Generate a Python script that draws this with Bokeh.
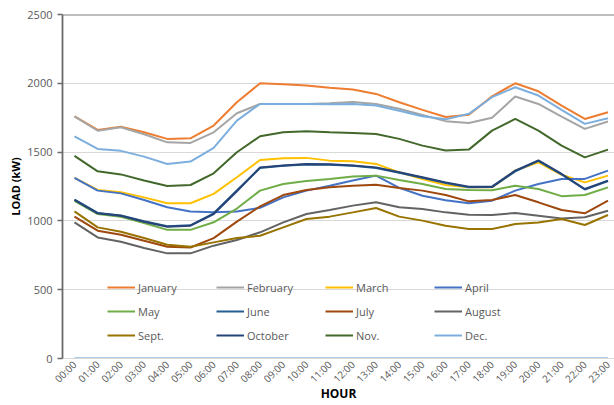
import math
from bokeh.plotting import figure
from bokeh.models import Range1d, FixedTicker, Legend, LegendItem, Span
from bokeh.embed import file_html
from bokeh.resources import INLINE

hours = ["00:00", "01:00", "02:00", "03:00", "04:00", "05:00", "06:00", "07:00",
         "08:00", "09:00", "10:00", "11:00", "12:00", "13:00", "14:00", "15:00",
         "16:00", "17:00", "18:00", "19:00", "20:00", "21:00", "22:00", "23:00"]

hour_series = [0, 0, 0, 0, 0, 0, 0, 0, 0, 0, 0, 0, 0, 0, 0, 0, 0, 0, 0, 0, 0, 0, 0, 0]

january = [1760, 1661, 1685, 1644, 1596, 1600, 1693, 1862, 2000, 1993, 1984, 1967,
           1955, 1923, 1862, 1807, 1755, 1772, 1905, 2000, 1942, 1838, 1741, 1790]
february = [1760, 1655, 1680, 1630, 1571, 1567, 1644, 1782, 1850, 1850, 1850, 1855,
            1864, 1850, 1815, 1770, 1725, 1712, 1749, 1904, 1850, 1758, 1669, 1722]
march = [1312, 1225, 1208, 1171, 1128, 1128, 1196, 1317, 1443, 1455, 1458, 1438,
         1433, 1414, 1353, 1305, 1261, 1244, 1244, 1365, 1426, 1335, 1280, 1329]
april = [1312, 1220, 1200, 1152, 1099, 1069, 1062, 1069, 1095, 1171, 1220, 1256,
         1293, 1329, 1240, 1183, 1150, 1128, 1147, 1220, 1268, 1305, 1305, 1365]
may = [1145, 1050, 1030, 985, 935, 935, 990, 1090, 1220, 1268, 1290, 1305,
       1322, 1329, 1298, 1268, 1232, 1225, 1222, 1256, 1232, 1180, 1188, 1244]
june = [1155, 1058, 1040, 998, 962, 968, 1055, 1222, 1385, 1400, 1410, 1408,
        1400, 1385, 1350, 1314, 1276, 1245, 1246, 1360, 1436, 1338, 1228, 1290]
july = [1031, 929, 900, 856, 812, 807, 875, 995, 1105, 1188, 1225, 1244,
        1256, 1263, 1239, 1220, 1188, 1142, 1152, 1188, 1135, 1079, 1055, 1147]
august = [989, 880, 849, 803, 764, 764, 820, 861, 917, 989, 1050, 1079,
          1111, 1135, 1099, 1087, 1062, 1045, 1043, 1058, 1038, 1018, 1026, 1074]
september = [1069, 953, 921, 876, 827, 812, 844, 876, 892, 953, 1014, 1031,
             1062, 1094, 1031, 1002, 965, 941, 941, 977, 989, 1014, 970, 1043]
october = [1152, 1055, 1038, 994, 958, 965, 1050, 1215, 1389, 1402, 1414, 1411,
           1402, 1389, 1353, 1317, 1280, 1249, 1249, 1365, 1440, 1341, 1232, 1293]
november = [1472, 1360, 1338, 1293, 1254, 1261, 1346, 1499, 1615, 1644, 1651, 1644,
            1639, 1632, 1596, 1547, 1511, 1518, 1656, 1741, 1656, 1547, 1462, 1518]
december = [1615, 1523, 1509, 1467, 1414, 1431, 1530, 1729, 1850, 1850, 1850, 1848,
             1850, 1838, 1800, 1760, 1738, 1778, 1899, 1971, 1911, 1807, 1705, 1746]

month_names = ["January", "February", "March", "April", "May", "June",
               "July", "August", "Sept.", "October", "Nov.", "Dec."]
month_values = [january, february, march, april, may, june,
                july, august, september, october, november, december]
month_colors = ["#ED7D31", "#A5A5A5", "#FFC000", "#4472C4", "#70AD47", "#255E91",
                "#9E480E", "#636363", "#997300", "#264478", "#43682B", "#7CAFDD"]

y_ticks = [0, 500, 1000, 1500, 2000, 2500]

FONT = "Open Sans"
TXT = "#595959"

x = list(range(len(hours)))

p = figure(width=614, height=405, output_backend="svg", toolbar_location=None,
           x_range=Range1d(-0.517, 23.28), y_range=Range1d(0, 2500),
           min_border_left=62, min_border_right=0, min_border_top=14,
           min_border_bottom=47)
p.outline_line_color = None
p.background_fill_color = "white"
p.border_fill_color = "white"

# axes
p.xaxis.ticker = FixedTicker(ticks=x)
p.xaxis.major_label_overrides = {i: h for i, h in enumerate(hours)}
p.xaxis.major_label_orientation = math.pi / 4
p.xaxis.major_label_text_font = FONT
p.xaxis.major_label_text_font_size = "10px"
p.xaxis.major_label_text_color = TXT
p.xaxis.major_label_standoff = 4
p.xaxis.major_tick_out = 0
p.xaxis.major_tick_in = 0
p.xaxis.major_tick_line_color = None
p.xaxis.minor_tick_line_color = None
p.xaxis.axis_line_color = "#D9D9D9"
p.xaxis.axis_label = "HOUR"
p.xaxis.axis_label_text_font = FONT
p.xaxis.axis_label_text_font_style = "bold"
p.xaxis.axis_label_text_font_size = "12px"
p.xaxis.axis_label_text_color = "#000000"
p.xaxis.axis_label_standoff = -8

p.yaxis.ticker = FixedTicker(ticks=y_ticks)
p.yaxis.major_label_text_font = FONT
p.yaxis.major_label_text_font_size = "11px"
p.yaxis.major_label_text_color = TXT
p.yaxis.major_label_standoff = 5
p.yaxis.major_tick_out = 5
p.yaxis.major_tick_in = 0
p.yaxis.major_tick_line_color = "#6b6b6b"
p.yaxis.major_tick_line_width = 1.5
p.yaxis.minor_tick_line_color = None
p.yaxis.axis_line_color = "#6b6b6b"
p.yaxis.axis_line_width = 1.8
p.yaxis.axis_label = "LOAD (kW)"
p.yaxis.axis_label_text_font = FONT
p.yaxis.axis_label_text_font_style = "bold"
p.yaxis.axis_label_text_font_size = "11px"
p.yaxis.axis_label_text_color = "#000000"
p.yaxis.axis_label_standoff = 1

p.xgrid.grid_line_color = None
p.ygrid.ticker = FixedTicker(ticks=y_ticks)
p.ygrid.grid_line_color = "#D9D9D9"
p.ygrid.grid_line_width = 1

p.add_layout(Span(location=y_ticks[-1], dimension="width",
                  line_color="#7f7f7f", line_width=1.8))

# zero series (time column)
p.line(x, hour_series, line_color="#5B9BD5", line_width=2)

items = []
for name, vals, col in zip(month_names, month_values, month_colors):
    r = p.line(x, vals, line_color=col, line_width=2)
    items.append(LegendItem(label=name, renderers=[r]))

legend = Legend(items=items, orientation="horizontal", ncols=4,
                location=(45, 13), padding=0, margin=0, spacing=4,
                glyph_width=28, glyph_height=20, label_standoff=3,
                label_width=74, label_height=20,
                label_text_font=FONT, label_text_font_size="11px",
                label_text_color=TXT, background_fill_alpha=0,
                border_line_color=None)
p.add_layout(legend)

open("out.html", "w").write(file_html(p, INLINE))
